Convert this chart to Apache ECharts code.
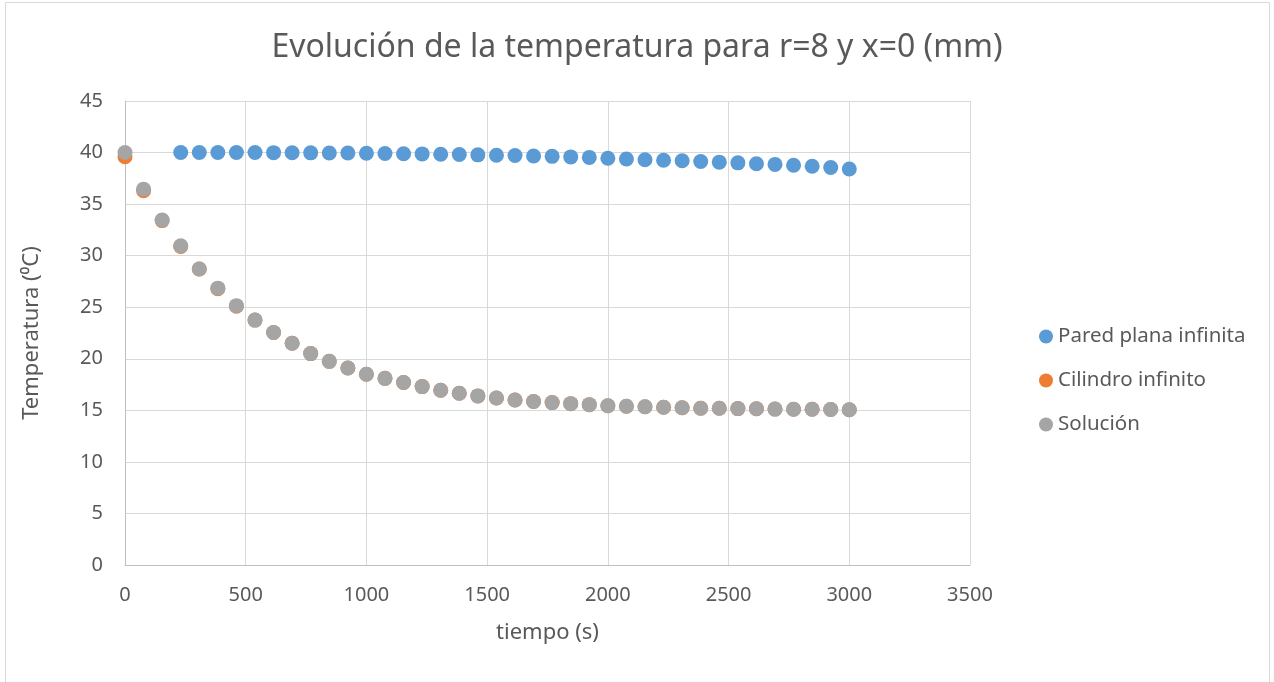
<!DOCTYPE html>
<html>
<head>
<meta charset="utf-8">
<title>Evolución de la temperatura</title>
<script src="https://cdn.jsdelivr.net/npm/echarts@6/dist/echarts.min.js"></script>
<style>
  html, body { margin: 0; padding: 0; background: #ffffff; }
  #chart { width: 1274px; height: 682px; }
</style>
</head>
<body>
<div id="chart"></div>
<script>
// Time samples (s)
const tiempo = [0, 76.9, 153.8, 230.8, 307.7, 384.6, 461.5, 538.5, 615.4, 692.3,
  769.2, 846.2, 923.1, 1000, 1076.9, 1153.8, 1230.8, 1307.7, 1384.6, 1461.5,
  1538.5, 1615.4, 1692.3, 1769.2, 1846.2, 1923.1, 2000, 2076.9, 2153.8, 2230.8,
  2307.7, 2384.6, 2461.5, 2538.5, 2615.4, 2692.3, 2769.2, 2846.2, 2923.1, 3000];

// Infinite plane wall (no values for the first three samples)
const paredPlana = [null, null, null, 40.0, 40.0, 40.0, 40.0, 40.0, 39.99, 39.98,
  39.97, 39.96, 39.95, 39.93, 39.91, 39.89, 39.87, 39.84, 39.81, 39.78,
  39.74, 39.71, 39.67, 39.63, 39.58, 39.53, 39.45, 39.38, 39.3, 39.25,
  39.2, 39.13, 39.07, 39.0, 38.92, 38.85, 38.77, 38.67, 38.55, 38.4];

// Infinite cylinder
const cilindro = [39.6, 36.3, 33.4, 30.9, 28.7, 26.8, 25.1, 23.75, 22.55, 21.5,
  20.5, 19.75, 19.1, 18.5, 18.1, 17.7, 17.3, 16.95, 16.65, 16.4,
  16.2, 16.0, 15.85, 15.75, 15.65, 15.55, 15.45, 15.4, 15.35, 15.3,
  15.25, 15.2, 15.2, 15.17, 15.15, 15.12, 15.1, 15.1, 15.08, 15.05];

// Combined solution
const solucion = [40.0, 36.45, 33.45, 30.95, 28.7, 26.85, 25.15, 23.75, 22.55, 21.5,
  20.5, 19.75, 19.1, 18.5, 18.1, 17.7, 17.3, 16.95, 16.65, 16.4,
  16.2, 16.0, 15.85, 15.75, 15.65, 15.55, 15.45, 15.4, 15.35, 15.3,
  15.25, 15.2, 15.2, 15.17, 15.15, 15.12, 15.1, 15.1, 15.08, 15.05];

const seriesNames = ['Pared plana infinita', 'Cilindro infinito', 'Solución'];
const seriesColors = ['#5B9BD5', '#ED7D31', '#A5A5A5'];

const pairs = (ys) => tiempo.map((t, i) => [t, ys[i]]).filter(p => p[1] !== null);

const textColor = '#595959';
const font = '"Noto Sans", "Open Sans", sans-serif';
const plain = (v) => String(v);

const chart = echarts.init(document.getElementById('chart'), null, { renderer: 'canvas' });

chart.setOption({
  backgroundColor: '#ffffff',
  animation: false,
  graphic: [{
    type: 'rect',
    shape: { x: 5.5, y: 2.5, width: 1264, height: 700 },
    style: { fill: 'none', stroke: '#d9d9d9', lineWidth: 1 },
    silent: true
  }],
  title: {
    text: 'Evolución de la temperatura para r=8 y x=0 (mm)',
    left: 'center',
    top: 27,
    textStyle: { color: textColor, fontFamily: font, fontSize: 32, fontWeight: 'normal' }
  },
  legend: {
    orient: 'vertical',
    left: 1034,
    top: 321,
    itemGap: 23,
    itemWidth: 14,
    itemHeight: 14,
    icon: 'circle',
    data: seriesNames,
    textStyle: { color: textColor, fontFamily: font, fontSize: 20.5, lineHeight: 21 }
  },
  grid: { left: 125, right: 304, top: 101, bottom: 117, containLabel: false },
  xAxis: {
    type: 'value',
    min: 0,
    max: 3500,
    interval: 500,
    name: 'tiempo (s)',
    nameLocation: 'middle',
    nameGap: 57,
    nameTextStyle: { color: textColor, fontFamily: font, fontSize: 22 },
    axisLine: { show: true, lineStyle: { color: '#bfbfbf', width: 1 } },
    axisTick: { show: false },
    axisLabel: { color: textColor, fontFamily: font, fontSize: 20, margin: 20, formatter: plain },
    splitLine: { show: true, lineStyle: { color: '#d9d9d9', width: 1 } }
  },
  yAxis: {
    type: 'value',
    min: 0,
    max: 45,
    interval: 5,
    name: 'Temperatura (⁰C)',
    nameLocation: 'middle',
    nameGap: 82,
    nameTextStyle: { color: textColor, fontFamily: font, fontSize: 22 },
    axisLine: { show: true, lineStyle: { color: '#bfbfbf', width: 1 } },
    axisTick: { show: false },
    axisLabel: { color: textColor, fontFamily: font, fontSize: 20, margin: 22, formatter: plain },
    splitLine: { show: true, lineStyle: { color: '#d9d9d9', width: 1 } }
  },
  series: [
    { name: seriesNames[0], type: 'scatter', symbol: 'circle', symbolSize: 15,
      itemStyle: { color: seriesColors[0], opacity: 1 }, data: pairs(paredPlana), z: 2 },
    { name: seriesNames[1], type: 'scatter', symbol: 'circle', symbolSize: 15,
      itemStyle: { color: seriesColors[1], opacity: 1 }, data: pairs(cilindro), z: 3 },
    { name: seriesNames[2], type: 'scatter', symbol: 'circle', symbolSize: 15,
      itemStyle: { color: seriesColors[2], opacity: 1 }, data: pairs(solucion), z: 4 }
  ]
});
</script>
</body>
</html>
